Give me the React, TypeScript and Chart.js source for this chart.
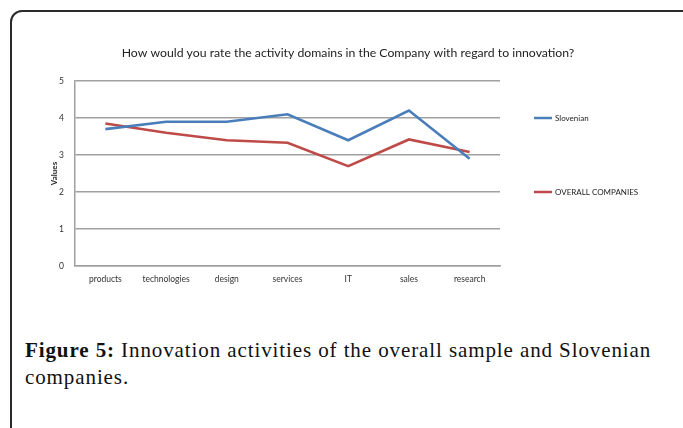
import React, { useEffect, useRef } from "react";
import { Chart, registerables } from "chart.js";

Chart.register(...registerables);

const categories = ["products", "technologies", "design", "services", "IT", "sales", "research"];
const slovenian = [3.7, 3.9, 3.9, 4.1, 3.4, 4.2, 2.9];
const overallCompanies = [3.85, 3.6, 3.4, 3.33, 2.7, 3.42, 3.08];
const seriesNames = ["Slovenian", "OVERALL COMPANIES"];
const titleText = "How would you rate the activity domains in the Company with regard to innovation?";
const yAxisTitle = "Values";

const BLUE = "#4A7EBB";
const RED = "#BE4B48";
const FONT = "Lato, 'Liberation Sans', sans-serif";

const titlePlugin = {
  id: "topTitle",
  afterDraw(chart: any) {
    const ctx = chart.ctx;
    ctx.save();
    ctx.fillStyle = "#222";
    ctx.font = "12.25px " + FONT;
    ctx.textAlign = "center";
    ctx.textBaseline = "middle";
    ctx.fillText(titleText, 348, 53);
    ctx.restore();
  },
};

const legendPlugin = {
  id: "sideLegend",
  afterDraw(chart: any) {
    const ctx = chart.ctx;
    const yScale = chart.scales.y;
    const x0 = chart.chartArea.right + 34;
    const rows = [
      { y: yScale.getPixelForValue(4), ds: chart.data.datasets[0] },
      { y: yScale.getPixelForValue(2), ds: chart.data.datasets[1] },
    ];
    ctx.save();
    rows.forEach((r) => {
      ctx.strokeStyle = r.ds.borderColor;
      ctx.lineWidth = 2.5;
      ctx.beginPath();
      ctx.moveTo(x0, r.y);
      ctx.lineTo(x0 + 18, r.y);
      ctx.stroke();
      ctx.fillStyle = "#222";
      ctx.font = "8px " + FONT;
      ctx.textBaseline = "middle";
      ctx.textAlign = "left";
      ctx.fillText(r.ds.label, x0 + 21, r.y + 0.5);
    });
    ctx.restore();
  },
};

function ChartView() {
  const ref = useRef<HTMLCanvasElement | null>(null);
  useEffect(() => {
    if (!ref.current) return;
    const chart = new Chart(ref.current, {
      type: "line",
      data: {
        labels: categories,
        datasets: [
          {
            label: seriesNames[0],
            data: slovenian,
            borderColor: BLUE,
            backgroundColor: BLUE,
            borderWidth: 2.6,
            pointRadius: 0,
            tension: 0,
          },
          {
            label: seriesNames[1],
            data: overallCompanies,
            borderColor: RED,
            backgroundColor: RED,
            borderWidth: 2.6,
            pointRadius: 0,
            tension: 0,
          },
        ],
      },
      options: {
        animation: false,
        responsive: false,
        layout: { padding: { left: 48, right: 183, top: 81, bottom: 14 } },
        plugins: {
          legend: { display: false },
          tooltip: { enabled: false },
          title: { display: false },
        },
        scales: {
          x: {
            offset: true,
            grid: { display: false, drawTicks: false },
            border: { display: true, color: "#a0a0a0", width: 1.5 },
            ticks: {
              color: "#333",
              font: { family: FONT, size: 8.5 },
              padding: 8,
              maxRotation: 0,
              autoSkip: false,
            },
            afterFit: (s: any) => {
              s.height = 20;
            },
          },
          y: {
            min: 0,
            max: 5,
            grid: { color: "#a0a0a0", lineWidth: 1.5, drawTicks: true, tickLength: 8, tickColor: "rgba(0,0,0,0)" },
            border: { display: true, color: "#a0a0a0", width: 1.5 },
            ticks: {
              stepSize: 1,
              color: "#333",
              font: { family: FONT, size: 8.5 },
              padding: 3,
            },
            title: {
              display: true,
              text: yAxisTitle,
              color: "#222",
              font: { family: FONT, size: 8, weight: "bold" },
              padding: { top: 2, bottom: 0 },
            },
            afterFit: (s: any) => {
              s.width = 27;
            },
          },
        },
      },
      plugins: [legendPlugin, titlePlugin],
    });
    return () => chart.destroy();
  }, []);
  return (
    <canvas
      ref={ref}
      width={683}
      height={300}
      style={{ position: "absolute", left: 0, top: 0, width: 683, height: 300 }}
    />
  );
}

export default function App() {
  return (
    <div
      style={{
        position: "fixed",
        left: 0,
        top: 0,
        width: 683,
        height: 428,
        overflow: "hidden",
        background: "#fff",
      }}
    >
      <div
        style={{
          position: "absolute",
          left: 10,
          top: 10,
          width: 900,
          height: 700,
          border: "2px solid #2a2a2a",
          borderRadius: 12,
        }}
      />
      <ChartView />
      <div
        style={{
          position: "absolute",
          left: 25,
          top: 337,
          width: 645,
          fontFamily: "'Liberation Serif', serif",
          fontSize: 21,
          letterSpacing: "0.9px",
          lineHeight: "27px",
          color: "#111",
        }}
      >
        <b>Figure 5:</b> Innovation activities of the overall sample and Slovenian companies.
      </div>
    </div>
  );
}
